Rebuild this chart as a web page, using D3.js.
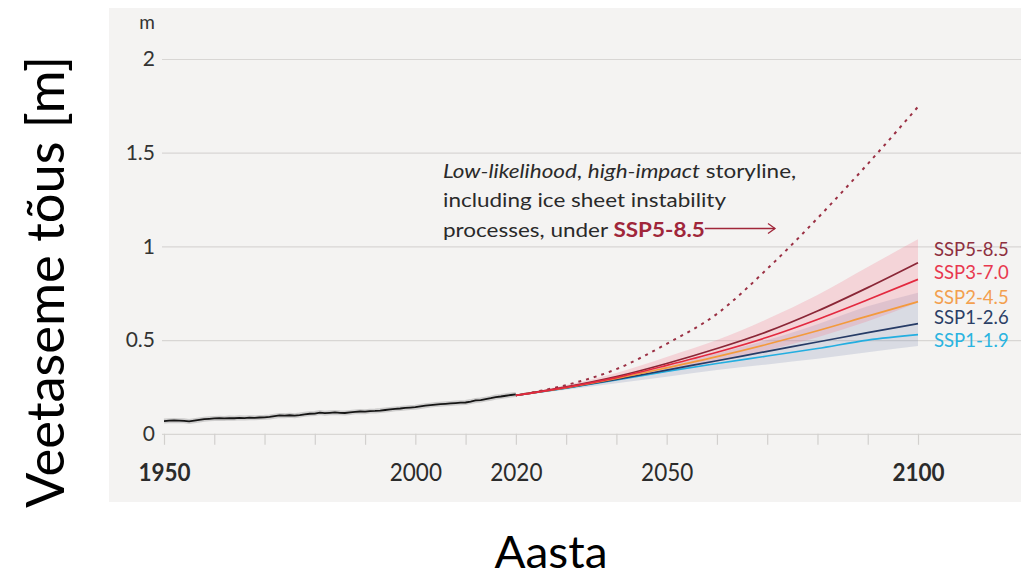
<!DOCTYPE html>
<html>
<head>
<meta charset="utf-8">
<script src="https://cdn.jsdelivr.net/npm/d3@7"></script>
<style>
  html, body { margin: 0; padding: 0; background: #ffffff; }
  svg { display: block; }
</style>
</head>
<body>
<svg id="chart" width="1021" height="579"></svg>
<script>
// Observed global mean sea level rise, annual, 1950–2020 (m)
const obsYears = d3.range(1950, 2021);
const obsValues = [
  0.068, 0.070, 0.071, 0.070, 0.069, 0.066, 0.070, 0.074, 0.078, 0.080,
  0.082, 0.083, 0.082, 0.084, 0.083, 0.085, 0.084, 0.086, 0.085, 0.087,
  0.088, 0.090, 0.094, 0.098, 0.097, 0.099, 0.097, 0.100, 0.104, 0.107,
  0.108, 0.113, 0.110, 0.112, 0.114, 0.112, 0.111, 0.114, 0.117, 0.119,
  0.118, 0.121, 0.122, 0.124, 0.127, 0.130, 0.133, 0.135, 0.138, 0.140,
  0.142, 0.146, 0.150, 0.153, 0.156, 0.158, 0.160, 0.162, 0.164, 0.166,
  0.167, 0.172, 0.178, 0.180, 0.185, 0.190, 0.196, 0.199, 0.203, 0.207,
  0.210
];

// Projections 2020–2100 by decade (m)
const projYears = [2020, 2030, 2040, 2050, 2060, 2070, 2080, 2090, 2100];
const ssp585 = [0.205, 0.250, 0.305, 0.375, 0.455, 0.545, 0.655, 0.780, 0.913];
const ssp370 = [0.205, 0.248, 0.300, 0.365, 0.435, 0.515, 0.610, 0.715, 0.824];
const ssp245 = [0.205, 0.246, 0.295, 0.352, 0.412, 0.478, 0.550, 0.628, 0.705];
const ssp126 = [0.205, 0.245, 0.290, 0.340, 0.390, 0.440, 0.490, 0.540, 0.588];
const ssp119 = [0.205, 0.244, 0.287, 0.333, 0.375, 0.415, 0.455, 0.500, 0.529];

// Likely ranges
const ssp585Low  = [0.205, 0.242, 0.283, 0.332, 0.385, 0.445, 0.515, 0.600, 0.700];
const ssp585High = [0.205, 0.260, 0.325, 0.410, 0.500, 0.612, 0.740, 0.890, 1.038];
const ssp126Low  = [0.205, 0.235, 0.270, 0.305, 0.340, 0.370, 0.400, 0.435, 0.468];
const ssp126High = [0.205, 0.250, 0.300, 0.360, 0.430, 0.500, 0.585, 0.680, 0.753];

// Low-likelihood, high-impact storyline under SSP5-8.5
const storyline = [0.205, 0.260, 0.345, 0.480, 0.640, 0.880, 1.150, 1.440, 1.745];

const scenarioNames  = ["SSP5-8.5", "SSP3-7.0", "SSP2-4.5", "SSP1-2.6", "SSP1-1.9"];
const scenarioColors = ["#8a2636", "#e3293f", "#f39a3c", "#263b66", "#23aee0"];
const labelColors    = ["#8e3040", "#e8384f", "#f3a04f", "#2b3f66", "#2ab3e0"];

const yTicks = [0, 0.5, 1, 1.5, 2];
const xTickYears = d3.range(1950, 2101, 10);
const xLabelYears = [1950, 2000, 2020, 2050, 2100];
const xBoldYears = [1950, 2100];

const svg = d3.select("#chart");

// panel background
svg.append("rect")
  .attr("x", 109).attr("y", 8)
  .attr("width", 1021 - 109).attr("height", 494)
  .attr("fill", "#f4f3f2");

const x = d3.scaleLinear().domain([1950, 2100]).range([164, 918]);
const y = d3.scaleLinear().domain([0, 2]).range([433.8, 59]);

const gridLeft = 162, gridRight = 1021;

// horizontal gridlines + y labels
const yAxis = d3.axisLeft(y)
  .tickValues(yTicks)
  .tickSize(0)
  .tickPadding(7)
  .tickFormat(d => d3.format("")(d));
const gy = svg.append("g")
  .attr("transform", `translate(${gridLeft},0)`)
  .call(yAxis);
gy.select(".domain").remove();
gy.selectAll(".tick line").remove();
gy.selectAll(".tick").append("line")
  .attr("x1", 0).attr("x2", gridRight - gridLeft)
  .attr("stroke", "#d8d6d4").attr("stroke-width", 1.2);
gy.selectAll(".tick text")
  .attr("font-family", "Lato, sans-serif")
  .attr("font-size", 21)
  .attr("fill", "#333")
  .attr("x", -7);

// unit label
svg.append("text")
  .attr("x", 155).attr("y", 29)
  .attr("text-anchor", "end")
  .attr("font-family", "Lato, sans-serif")
  .attr("font-size", 19)
  .attr("fill", "#333")
  .text("m");

// x axis ticks and labels
const xAxis = d3.axisBottom(x)
  .tickValues(xTickYears)
  .tickSize(11)
  .tickSizeOuter(0)
  .tickFormat(d => xLabelYears.includes(d) ? String(d) : "");
const gx = svg.append("g")
  .attr("transform", `translate(0,${y(0)})`)
  .call(xAxis);
gx.select(".domain").remove();
gx.selectAll(".tick line").attr("stroke", "#d2d0ce").attr("stroke-width", 1.2);
gx.selectAll(".tick text")
  .attr("font-family", "Lato, sans-serif")
  .attr("font-size", 25)
  .attr("fill", "#2b2b2b")
  .attr("font-weight", d => xBoldYears.includes(d) ? 700 : 400)
  .attr("dy", null)
  .attr("y", 47)
  .attr("transform", "scale(0.9,1)");

// likely ranges
const band = (lo, hi) => d3.area()
  .x((d, i) => x(projYears[i]))
  .y0((d, i) => y(lo[i]))
  .y1((d, i) => y(hi[i]))
  .curve(d3.curveMonotoneX)(projYears);

svg.append("path")
  .attr("d", band(ssp126Low, ssp126High))
  .attr("fill", "rgba(110,125,170,0.20)");
svg.append("path")
  .attr("d", band(ssp585Low, ssp585High))
  .attr("fill", "rgba(245,120,140,0.25)");

// observed record
const obsLine = d3.line()
  .x((d, i) => x(obsYears[i]))
  .y(d => y(d));
svg.append("path")
  .attr("d", obsLine(obsValues))
  .attr("fill", "none")
  .attr("stroke", "rgba(120,120,120,0.30)")
  .attr("stroke-width", 5);
svg.append("path")
  .attr("d", obsLine(obsValues))
  .attr("fill", "none")
  .attr("stroke", "#151515")
  .attr("stroke-width", 1.8);

// storyline (dotted)
const projLine = d3.line()
  .x((d, i) => x(projYears[i]))
  .y(d => y(d))
  .curve(d3.curveMonotoneX);

svg.append("path")
  .attr("d", projLine(storyline))
  .attr("fill", "none")
  .attr("stroke", "#9b3044")
  .attr("stroke-width", 2)
  .attr("stroke-dasharray", "3,5");

// scenario medians
const seriesList = [ssp585, ssp370, ssp245, ssp126, ssp119];
const drawOrder = [4, 3, 2, 0, 1];
drawOrder.forEach(k => {
  svg.append("path")
    .attr("d", projLine(seriesList[k]))
    .attr("fill", "none")
    .attr("stroke", scenarioColors[k])
    .attr("stroke-width", 1.7);
});

// scenario labels
const labelY = [249, 272, 296.5, 317, 340];
scenarioNames.forEach((name, k) => {
  svg.append("text")
    .attr("x", 934).attr("y", labelY[k])
    .attr("dominant-baseline", "central")
    .attr("font-family", "Lato, sans-serif")
    .attr("font-size", 18.5)
    .attr("fill", labelColors[k])
    .text(name);
});

// storyline annotation (slightly widened type)
const noteX = 443, noteStretch = 1.125;
const note = svg.append("g")
  .attr("transform", `translate(${noteX},0) scale(${noteStretch},1) translate(${-noteX},0)`)
  .attr("font-family", "Lato, sans-serif")
  .attr("font-size", 20)
  .attr("fill", "#2a2a2a");
const l1 = note.append("text").attr("x", noteX).attr("y", 178);
l1.append("tspan").attr("font-style", "italic").text("Low-likelihood");
l1.append("tspan").text(", ");
l1.append("tspan").attr("font-style", "italic").text("high-impact");
l1.append("tspan").text(" storyline,");
note.append("text").attr("x", noteX).attr("y", 207)
  .text("including ice sheet instability");
const l3 = note.append("text").attr("x", noteX).attr("y", 237);
l3.append("tspan").text("processes, under ");
l3.append("tspan")
  .attr("font-weight", 700)
  .attr("fill", "#a0263a")
  .text("SSP5-8.5");

// arrow from the tag toward the dotted curve
const arrowY = 228.5, arrowEnd = 775;
const tagEnd = noteX + l3.node().getComputedTextLength() * noteStretch;
svg.append("line")
  .attr("x1", tagEnd).attr("x2", arrowEnd)
  .attr("y1", arrowY).attr("y2", arrowY)
  .attr("stroke", "#a0263a").attr("stroke-width", 1.3);
svg.append("path")
  .attr("d", `M${arrowEnd - 7},${arrowY - 5} L${arrowEnd},${arrowY} L${arrowEnd - 7},${arrowY + 5}`)
  .attr("fill", "none")
  .attr("stroke", "#a0263a").attr("stroke-width", 1.3);

// axis titles
svg.append("text")
  .attr("transform", "translate(64,282) rotate(-90)")
  .attr("text-anchor", "middle")
  .attr("font-family", "Lato, sans-serif")
  .attr("font-size", 52)
  .attr("fill", "#000")
  .attr("textLength", 452)
  .attr("lengthAdjust", "spacingAndGlyphs")
  .text("Veetaseme tõus [m]");

svg.append("text")
  .attr("x", 551).attr("y", 568)
  .attr("text-anchor", "middle")
  .attr("font-family", "Lato, sans-serif")
  .attr("font-size", 44)
  .attr("fill", "#000")
  .attr("textLength", 113)
  .attr("lengthAdjust", "spacingAndGlyphs")
  .text("Aasta");
</script>
</body>
</html>
